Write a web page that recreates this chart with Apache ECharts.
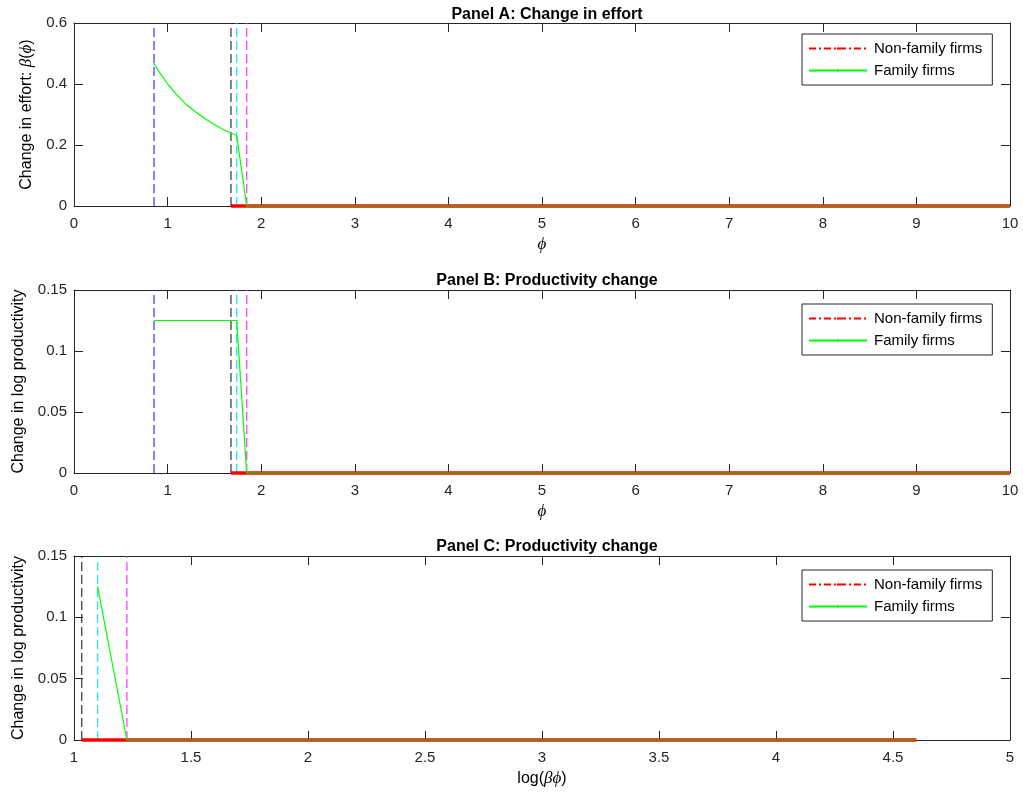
<!DOCTYPE html>
<html>
<head>
<meta charset="utf-8">
<script src="https://cdn.jsdelivr.net/npm/echarts@6/dist/echarts.min.js"></script>
<style>
html,body{margin:0;padding:0;background:#fff;}
#chart{width:1023px;height:801px;}
</style>
</head>
<body>
<div id="chart"></div>
<script>
// ---------- data ----------
const panelTitles = ['Panel A: Change in effort', 'Panel B: Productivity change', 'Panel C: Productivity change'];
const legendNames = ['Non-family firms', 'Family firms'];

// Panel A: change in effort vs phi
const panelA_phi    = [0.855, 0.9, 1.0, 1.1, 1.2, 1.3, 1.4, 1.5, 1.6, 1.7, 1.738, 1.845, 10];
const panelA_family = [0.468, 0.444, 0.400, 0.364, 0.333, 0.308, 0.286, 0.267, 0.250, 0.236, 0.232, 0, 0];
// Panel B: change in log productivity vs phi
const panelB_phi    = [0.855, 1.738, 1.845, 10];
const panelB_family = [0.125, 0.125, 0, 0];
// Non-family firms (panels A and B)
const nonFamilyAB_phi = [1.677, 10];
const nonFamilyAB_val = [0, 0];
// Panel C: change in log productivity vs log(beta*phi)
const panelC_x      = [1.101, 1.226, 4.60];
const panelC_family = [0.125, 0, 0];
const nonFamilyC_x   = [1.033, 4.60];
const nonFamilyC_val = [0, 0];

// thresholds (vertical dashed lines)
const thresholdsAB = [0.855, 1.677, 1.738, 1.845];
const thresholdsC  = [1.033, 1.101, 1.226];

// ---------- styling ----------
const FONT = "'Liberation Sans', Arial, Helvetica, sans-serif";
const AX = '#262626';
const thrColorsAB = ['#2020ff', '#202020', '#00e8e8', '#ff20ff'];
const thrColorsC  = ['#202020', '#00e8e8', '#ff20ff'];
const grids = [
  {left: 74, top: 23, width: 936, height: 183},
  {left: 74, top: 290, width: 936, height: 183},
  {left: 74, top: 556, width: 936, height: 184}
];
const yMax = [0.6, 0.15, 0.15];
const yInt = [0.2, 0.05, 0.05];
const xMin = [0, 0, 1], xMax = [10, 10, 5], xInt = [1, 1, 0.5];

function fmt(v){ return String(parseFloat(v.toFixed(4))); }
function zip(a, b){ return a.map((v, i) => [v, b[i]]); }

const xAxes = [], yAxes = [], series = [];
const xNames = ['{i|ϕ}', '{i|ϕ}', 'log({i|βϕ})'];
const yNames = ['Change in effort: {i|β}({i|ϕ})', 'Change in log productivity', 'Change in log productivity'];
const yGaps = [36, 46, 46];
const rich = {i: {fontFamily: "'Liberation Serif', 'DejaVu Serif', serif", fontStyle: 'italic', fontSize: 17, color: '#000'}};

for (let g = 0; g < 3; g++) {
  const common = {gridIndex: g, min: xMin[g], max: xMax[g], interval: xInt[g], splitLine: {show: false},
    axisLine: {show: true, onZero: false, lineStyle: {color: AX, width: 1}},
    axisTick: {show: true, inside: true, length: 9, lineStyle: {color: AX}}};
  xAxes.push(Object.assign({}, common, {type: 'value', position: 'bottom',
    axisLabel: {show: true, margin: 10, fontSize: 15, color: AX, fontFamily: FONT, formatter: fmt},
    name: xNames[g], nameLocation: 'middle', nameGap: 30,
    nameTextStyle: {fontSize: 16, color: '#000', fontFamily: FONT, rich: rich}}));
  xAxes.push(Object.assign({}, common, {type: 'value', position: 'top', axisLabel: {show: false}}));
  const ycommon = {gridIndex: g, type: 'value', min: 0, max: yMax[g], interval: yInt[g], splitLine: {show: false},
    axisLine: {show: true, onZero: false, lineStyle: {color: AX, width: 1}},
    axisTick: {show: true, inside: true, length: 9, lineStyle: {color: AX}}};
  yAxes.push(Object.assign({}, ycommon, {position: 'left',
    axisLabel: {show: true, margin: 7, fontSize: 15, color: AX, fontFamily: FONT, formatter: fmt},
    name: yNames[g], nameLocation: 'middle', nameGap: yGaps[g], nameRotate: 90,
    nameTextStyle: {fontSize: 16, color: '#000', fontFamily: FONT, rich: rich}}));
  yAxes.push(Object.assign({}, ycommon, {position: 'right', axisLabel: {show: false}}));
}

// legend-only series (first, so legend icons use them)
series.push({name: legendNames[0], type: 'line', xAxisIndex: 0, yAxisIndex: 0, data: [], symbol: 'circle',
  lineStyle: {color: '#ff0000', width: 1, type: [7, 3, 2, 3]}, itemStyle: {color: '#ff0000'}});
series.push({name: legendNames[1], type: 'line', xAxisIndex: 0, yAxisIndex: 0, data: [], symbol: 'circle',
  lineStyle: {color: '#00ff00', width: 1}, itemStyle: {color: '#00ff00'}});

function vlines(g, thr, colors) {
  thr.forEach((x, i) => {
    series.push({type: 'line', xAxisIndex: 2 * g, yAxisIndex: 2 * g, symbol: 'none', silent: true,
      data: [[x, 0], [x, yMax[g]]],
      lineStyle: {color: colors[i], width: 1.3, type: [9, 4], opacity: 0.85}});
  });
}
function redLine(g, xs, ys) {
  series.push({type: 'line', xAxisIndex: 2 * g, yAxisIndex: 2 * g, symbol: 'none', silent: true, clip: false,
    data: zip(xs, ys), lineStyle: {color: '#ff0000', width: 3.5}, z: 3});
}
function greenLine(g, xs, ys) {
  series.push({type: 'line', xAxisIndex: 2 * g, yAxisIndex: 2 * g, symbol: 'none', silent: true, clip: false,
    data: zip(xs, ys), lineStyle: {color: '#00ff00', width: 1.2}, z: 4});
}

vlines(0, thresholdsAB, thrColorsAB);
redLine(0, nonFamilyAB_phi, nonFamilyAB_val);
greenLine(0, panelA_phi, panelA_family);

vlines(1, thresholdsAB, thrColorsAB);
redLine(1, nonFamilyAB_phi, nonFamilyAB_val);
greenLine(1, panelB_phi, panelB_family);

vlines(2, thresholdsC, thrColorsC);
redLine(2, nonFamilyC_x, nonFamilyC_val);
greenLine(2, panelC_x, panelC_family);

const legendTops = [34, 304, 570];
const legends = legendTops.map(t => ({
  data: legendNames, orient: 'vertical', left: 802, top: t, selectedMode: false,
  itemWidth: 58, itemHeight: 3, itemGap: 5, padding: [6, 10, 6, 6],
  backgroundColor: '#fff', borderColor: '#262626', borderWidth: 1, borderRadius: 0,
  textStyle: {fontSize: 15, color: '#000', fontFamily: FONT, lineHeight: 17, padding: [0, 0, 0, 2]}
}));

const titleTops = [2, 268, 534];
const titles = panelTitles.map((t, i) => ({
  text: t, left: 542, top: titleTops[i], textAlign: 'center',
  textStyle: {fontSize: 16, fontWeight: 'bold', color: '#000', fontFamily: FONT}
}));

const chart = echarts.init(document.getElementById('chart'), null, {renderer: 'canvas'});
chart.setOption({
  animation: false,
  backgroundColor: '#fff',
  title: titles,
  legend: legends,
  grid: grids,
  xAxis: xAxes,
  yAxis: yAxes,
  series: series
});
</script>
</body>
</html>
